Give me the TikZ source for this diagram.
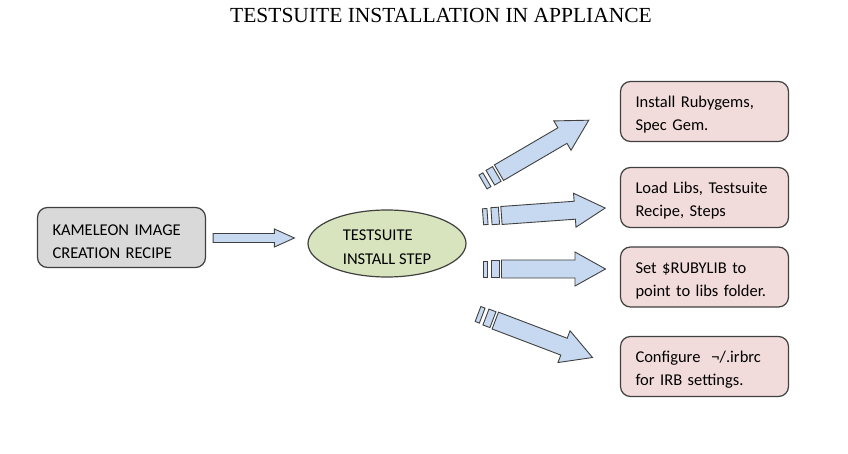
\documentclass[tikz,border=0pt]{standalone}
\usepackage{fontspec}
\setmainfont{Carlito}
\newfontfamily\titlefont{Liberation Serif}
\usetikzlibrary{shapes.geometric,calc}
\definecolor{edge}{HTML}{404040}
\definecolor{grayfill}{HTML}{D9D9D9}
\definecolor{greenfill}{HTML}{D7E4BD}
\definecolor{pinkfill}{HTML}{F2DCDB}
\definecolor{bluefill}{HTML}{C6D9F0}
\newcommand\tallstrut{\rule{0pt}{18.5pt}}
\tikzset{
  boxbase/.style={draw=edge, line width=1.2pt, rounded corners=10pt, minimum width=168pt, minimum height=60pt, text width=138pt, align=left, inner sep=0pt, font=\fontsize{16.5}{23}\selectfont},
  graybox/.style={boxbase, fill=grayfill},
  pinkbox/.style={boxbase, fill=pinkfill},
  stepell/.style={ellipse, draw=edge, line width=1.2pt, fill=greenfill, minimum width=158pt, minimum height=67pt, inner sep=0pt, align=left, font=\fontsize{16.5}{24}\selectfont},
  arrowbody/.style={draw=edge, line width=0.9pt, fill=bluefill, line join=miter},
  striped/.pic={
    \filldraw[arrowbody] (18.5,-9) -- (92,-9) -- (92,-17) -- (122.5,0) -- (92,17) -- (92,9) -- (18.5,9) -- cycle;
    \filldraw[arrowbody] (0,-8) rectangle (4.5,8);
    \filldraw[arrowbody] (8.5,-8.5) rectangle (16,8.5);
  }
}
\begin{document}
\begin{tikzpicture}[x=1pt,y=-1pt]
\useasboundingbox (0,0) rectangle (848,454);
\node[font=\titlefont\fontsize{21.5}{24}\selectfont, anchor=base] (title) at (441,23) {TESTSUITE INSTALLATION IN APPLIANCE};

\node[graybox] (kam) at (121.5,237.5) {\tallstrut KAMELEON IMAGE\\CREATION RECIPE};
\node[stepell] (ts) at (387,243.5) {\tallstrut TESTSUITE\\INSTALL STEP};

\node[pinkbox] (bA) at (704.5,111.5) {\tallstrut Install Rubygems,\\Spec Gem.};
\node[pinkbox] (bB) at (704.5,197.5) {\tallstrut Load Libs, Testsuite\\Recipe, Steps};
\node[pinkbox] (bC) at (704.5,277) {\tallstrut Set \$RUBYLIB to\\point to libs folder.};
\node[pinkbox] (bD) at (704.5,366.5) {\tallstrut Configure\ \ ¬/.irbrc\\for IRB settings.};

% straight block arrow from kameleon box to step ellipse
\coordinate (a1) at ($(kam.east)+(7,0.5)$);
\coordinate (a2) at ($(ts.west)+(-13,-5.5)$);
\draw[arrowbody] let \p1=(a1), \p2=(a2) in
  (\x1,\y1+4.5pt) -- (\x2-20pt,\y1+4.5pt) -- (\x2-20pt,\y1+9pt) -- (\x2,\y2)
  -- (\x2-20pt,\y1-9pt) -- (\x2-20pt,\y1-4.5pt) -- (\x1,\y1-4.5pt) -- cycle;

% striped arrows from the step ellipse towards the boxes
\coordinate (sA) at (483,182);
\coordinate (sB) at (483,216.8);
\coordinate (sC) at (483,269);
\coordinate (sD) at (478,314);
\pic[rotate=30.3] at (sA) {striped};
\pic[rotate=4.1] at (sB) {striped};
\pic at (sC) {striped};
\pic[rotate=-20.8] at (sD) {striped};
\end{tikzpicture}
\end{document}
